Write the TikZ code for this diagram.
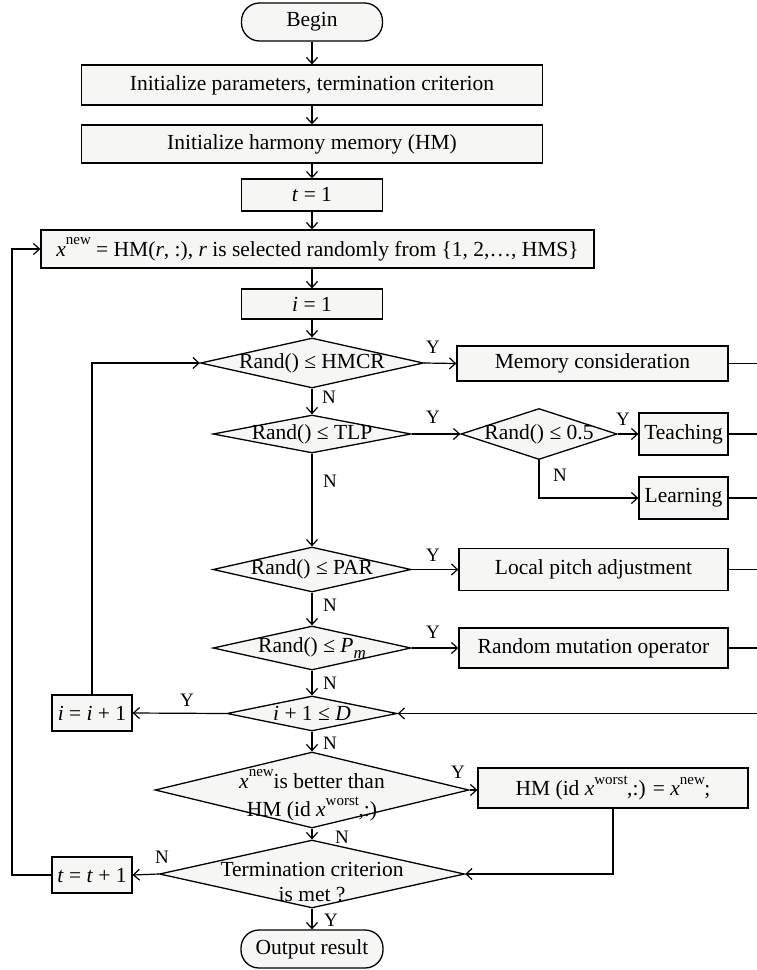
\documentclass[tikz,border=0pt]{standalone}
\usepackage{fontspec}
\setmainfont{Liberation Serif}
\usetikzlibrary{shapes.geometric,arrows.meta}
\definecolor{boxfill}{RGB}{246,247,245}
\newcommand{\supx}[1]{\raisebox{0.55em}{\fontsize{15}{15}\selectfont #1}}
\newcommand{\supsub}[2]{\raisebox{0.5em}{\fontsize{15}{15}\selectfont #1}\kern-0.5pt#2}
\newcommand{\subx}[1]{\raisebox{-0.3em}{\fontsize{17}{17}\selectfont #1}}
\tikzset{
  box/.style={draw, line width=1.3pt, fill=boxfill, inner sep=0pt, font=\fontsize{21.5}{25}\selectfont},
  endbox/.style={box, rounded corners=18pt},
  dia/.style={draw, diamond, line width=1.3pt, fill=boxfill, inner sep=0pt, aspect=1},
  txt/.style={inner sep=0pt, font=\fontsize{21.5}{25}\selectfont, align=center},
  lbl/.style={inner sep=0pt, font=\fontsize{19}{19}\selectfont},
  arr/.style={-{Straight Barb[length=6pt,width=11pt]}, line width=1.2pt},
  ln/.style={line width=1.2pt}
}
\begin{document}
\begin{tikzpicture}[x=1pt,y=-1pt]
\useasboundingbox (0,0) rectangle (757,970);
\fill[white] (0,0) rectangle (757,970);
% main column
\node[endbox, minimum width=141pt, minimum height=38pt] (begin) at (312,22) {Begin};
\node[box, minimum width=461pt, minimum height=40pt] (init1) at (312,85) {Initialize parameters, termination criterion};
\node[box, minimum width=461pt, minimum height=38pt] (init2) at (312,144) {Initialize harmony memory (HM)};
\node[box, minimum width=141pt, minimum height=32pt] (t1) at (312,195) {\textit{t} = 1};
\node[box, minimum width=553pt, minimum height=38pt] (xnew) at (317.5,249) {\textit{x}\supx{new} = HM(\textit{r}, :), \textit{r} is selected randomly from \{1, 2,…, HMS\}};
\node[box, minimum width=141pt, minimum height=30pt] (i1) at (312,304) {\textit{i} = 1};
% decisions
\node[dia, minimum width=223pt, minimum height=50pt] (hmcr) at (312,363) {};
\node[txt] (hmcrt) at (hmcr.center) {Rand() ≤ HMCR};
\node[dia, minimum width=198pt, minimum height=38pt] (tlp) at (312,434) {};
\node[txt] (tlpt) at (tlp.center) {Rand() ≤ TLP};
\node[dia, minimum width=156pt, minimum height=51pt] (half) at (539,434) {};
\node[txt] (halft) at (half.center) {Rand() ≤ 0.5};
\node[dia, minimum width=198pt, minimum height=45pt] (par) at (312,569.5) {};
\node[txt] (part) at (par.center) {Rand() ≤ PAR};
\node[dia, minimum width=198pt, minimum height=44pt] (pm) at (312,648) {};
\node[txt] (pmt) at (pm.center) {Rand() ≤ \textit{P}\subx{\textit{m}}};
\node[dia, minimum width=170pt, minimum height=35pt] (dd) at (312,713.5) {};
\node[txt] (ddt) at (dd.center) {\textit{i} + 1 ≤ \textit{D}};
\node[dia, minimum width=314pt, minimum height=76pt] (better) at (312,790) {};
\node[txt] (bettert) at ([yshift=-5pt]better.center) {\textit{x}\supx{new}is better than\\[3pt]HM (id \textit{x}\supsub{worst}{,}:)};
\node[dia, minimum width=305pt, minimum height=68pt] (term) at (312,874) {};
\node[txt] (termt) at ([yshift=-8pt]term.center) {Termination criterion\\is met ?};
% side boxes
\node[box, minimum width=271pt, minimum height=35pt] (mem) at (592.5,363.5) {Memory consideration};
\node[box, minimum width=89pt, minimum height=42pt] (teach) at (683.5,434) {Teaching};
\node[box, minimum width=89pt, minimum height=42pt] (learn) at (683.5,498) {Learning};
\node[box, minimum width=269pt, minimum height=42pt] (local) at (593.5,569.5) {Local pitch adjustment};
\node[box, minimum width=269pt, minimum height=40pt] (rmut) at (593.5,648) {Random mutation operator};
\node[box, minimum width=80pt, minimum height=36pt] (ii) at (92,713) {\textit{i} = \textit{i} + 1};
\node[box, minimum width=270pt, minimum height=40pt] (hm) at (613,788) {HM (id \textit{x}\supsub{worst}{,}:) = \textit{x}\supsub{new}{;}};
\node[box, minimum width=80pt, minimum height=36pt] (tt) at (92,875) {\textit{t} = \textit{t} + 1};
\node[endbox, minimum width=142pt, minimum height=38pt] (out) at (312,949) {Output result};
% bus coordinates
\coordinate (rbus) at (760,0);
\coordinate (lbus) at (12,0);
% connectors
\draw[arr] (begin) -- (init1);
\draw[arr] (init1) -- (init2);
\draw[arr] (init2) -- (t1);
\draw[arr] (t1.south) -- (t1.south |- xnew.north);
\draw[arr] (i1.north |- xnew.south) -- (i1.north);
\draw[arr] (i1) -- (hmcr);
\draw[arr] (hmcr.east) -- (mem.west);
\draw[arr] (hmcr.south) -- (tlp.north);
\draw[arr] (tlp.east) -- (half.west);
\draw[arr] (half.east) -- (teach.west);
\draw[arr] (half.south) -- (half.south |- learn.west) -- (learn.west);
\draw[arr] (tlp.south) -- (par.north);
\draw[arr] (par.east) -- (local.west);
\draw[arr] (par.south) -- (pm.north);
\draw[arr] (pm.east) -- (rmut.west);
\draw[arr] (pm.south) -- (dd.north);
\draw[arr] (dd.west) -- (ii.east);
\draw[arr] (ii.north) -- (ii.north |- hmcr.west) -- (hmcr.west);
\draw[ln] (mem.east) -- (mem.east -| rbus);
\draw[ln] (teach.east) -- (teach.east -| rbus);
\draw[ln] (learn.east) -- (learn.east -| rbus);
\draw[ln] (local.east) -- (local.east -| rbus);
\draw[ln] (rmut.east) -- (rmut.east -| rbus);
\draw[ln] (mem.east -| rbus) -- (dd.east -| rbus);
\draw[arr] (dd.east -| rbus) -- (dd.east);
\draw[arr] (dd.south) -- (better.north);
\draw[arr] (better.east) -- (better.east -| hm.west);
\draw[arr] (hm.south) -- (hm.south |- term.east) -- (term.east);
\draw[arr] (better.south) -- (term.north);
\draw[arr] (term.west) -- (tt.east);
\draw[arr] (tt.west) -- (tt.west -| lbus) -- (xnew.west -| lbus) -- (xnew.west);
\draw[arr] (term.south) -- (out.north);
% labels
\node[lbl] (y1) at (433,347) {Y};
\node[lbl] (n1) at (329,397) {N};
\node[lbl] (y2) at (433,417) {Y};
\node[lbl] (y3) at (623,419) {Y};
\node[lbl] (n3) at (560,475) {N};
\node[lbl] (n2) at (330,481) {N};
\node[lbl] (y4) at (433,555) {Y};
\node[lbl] (n4) at (330,605) {N};
\node[lbl] (y5) at (433,632) {Y};
\node[lbl] (n5) at (330,683) {N};
\node[lbl] (y6) at (187,700) {Y};
\node[lbl] (n6) at (330,743) {N};
\node[lbl] (y7) at (458,772) {Y};
\node[lbl] (n7) at (342,837) {N};
\node[lbl] (n8) at (162,857) {N};
\node[lbl] (y8) at (331,920) {Y};
\end{tikzpicture}
\end{document}
